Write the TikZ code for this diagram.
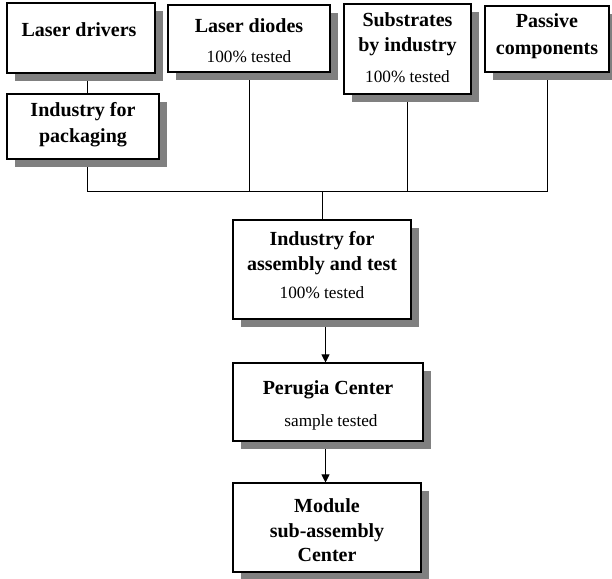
\documentclass[tikz,border=0pt]{standalone}
\usepackage{fontspec}
\setmainfont{Liberation Serif}
\usetikzlibrary{shadows,arrows.meta,backgrounds}
\definecolor{shade}{RGB}{128,128,128}
\tikzset{
 box/.style={draw=black, line width=1.1pt, fill=white, inner sep=0pt,
   drop shadow={shadow xshift=8pt, shadow yshift=-8pt, fill=shade, opacity=1}},
 ttl/.style={font=\fontsize{20}{24}\selectfont\bfseries, anchor=base, inner sep=0pt},
 sub/.style={font=\fontsize{17.2}{20}\selectfont, anchor=base, inner sep=0pt},
 conn/.style={draw=black, line width=0.9pt},
 arr/.style={conn, -{Triangle[length=8pt,width=8pt]}}
}
\begin{document}
\begin{tikzpicture}[x=1pt,y=-1pt]
\useasboundingbox (0,0) rectangle (612,578);
% boxes
\node[box, minimum width=148pt, minimum height=70pt] (drivers) at (81,38) {};
\node[box, minimum width=162pt, minimum height=67pt] (diodes) at (249,38.5) {};
\node[box, minimum width=152pt, minimum height=65pt] (packaging) at (83,126.5) {};
\node[box, minimum width=127pt, minimum height=90pt] (substrates) at (407.5,49) {};
\node[box, minimum width=124pt, minimum height=66pt] (passive) at (547,39) {};
\node[box, minimum width=178pt, minimum height=99pt] (assembly) at (322,269.5) {};
\node[box, minimum width=190pt, minimum height=78pt] (perugia) at (328,402) {};
\node[box, minimum width=188pt, minimum height=89pt] (module) at (327,527.5) {};
% texts
\node[ttl] (t1) at (79,37) {Laser drivers};
\node[ttl] (t2a) at (249,33) {Laser diodes};
\node[sub] (t2b) at (249,63) {100\% tested};
\node[ttl] (t3a) at (83,116) {Industry for};
\node[ttl] (t3b) at (83,142) {packaging};
\node[ttl] (t4a) at (407.5,27) {Substrates};
\node[ttl] (t4b) at (407.5,52) {by industry};
\node[sub] (t4c) at (407.5,82) {100\% tested};
\node[ttl] (t5a) at (547,28) {Passive};
\node[ttl] (t5b) at (547,54) {components};
\node[ttl] (t6a) at (322,245) {Industry for};
\node[ttl] (t6b) at (322,270) {assembly and test};
\node[sub] (t6c) at (322,298) {100\% tested};
\node[ttl] (t7a) at (328,394) {Perugia Center};
\node[sub] (t7b) at (331,426) {sample tested};
\node[ttl] (t8a) at (327,512) {Module};
\node[ttl] (t8b) at (327,537) {sub-assembly};
\node[ttl] (t8c) at (327,561) {Center};
% connectors
\coordinate (busL) at (87.5,191);
\coordinate (busR) at (547,191);
\coordinate (busM) at (322,191);
\coordinate (ax) at (325.5,0);
\begin{scope}[on background layer]
\draw[conn] (drivers.south -| busL) -- (packaging.north -| busL);
\draw[conn] (packaging.south -| busL) -- (busL) -- (busR) -- (passive.south -| busR);
\draw[conn] (diodes.south) -- (diodes.south |- busL);
\draw[conn] (substrates.south) -- (substrates.south |- busL);
\draw[conn] (busM) -- (assembly.north);
\draw[arr] (assembly.south -| ax) -- (perugia.north -| ax);
\draw[arr] (perugia.south -| ax) -- (module.north -| ax);
\end{scope}
\end{tikzpicture}
\end{document}
